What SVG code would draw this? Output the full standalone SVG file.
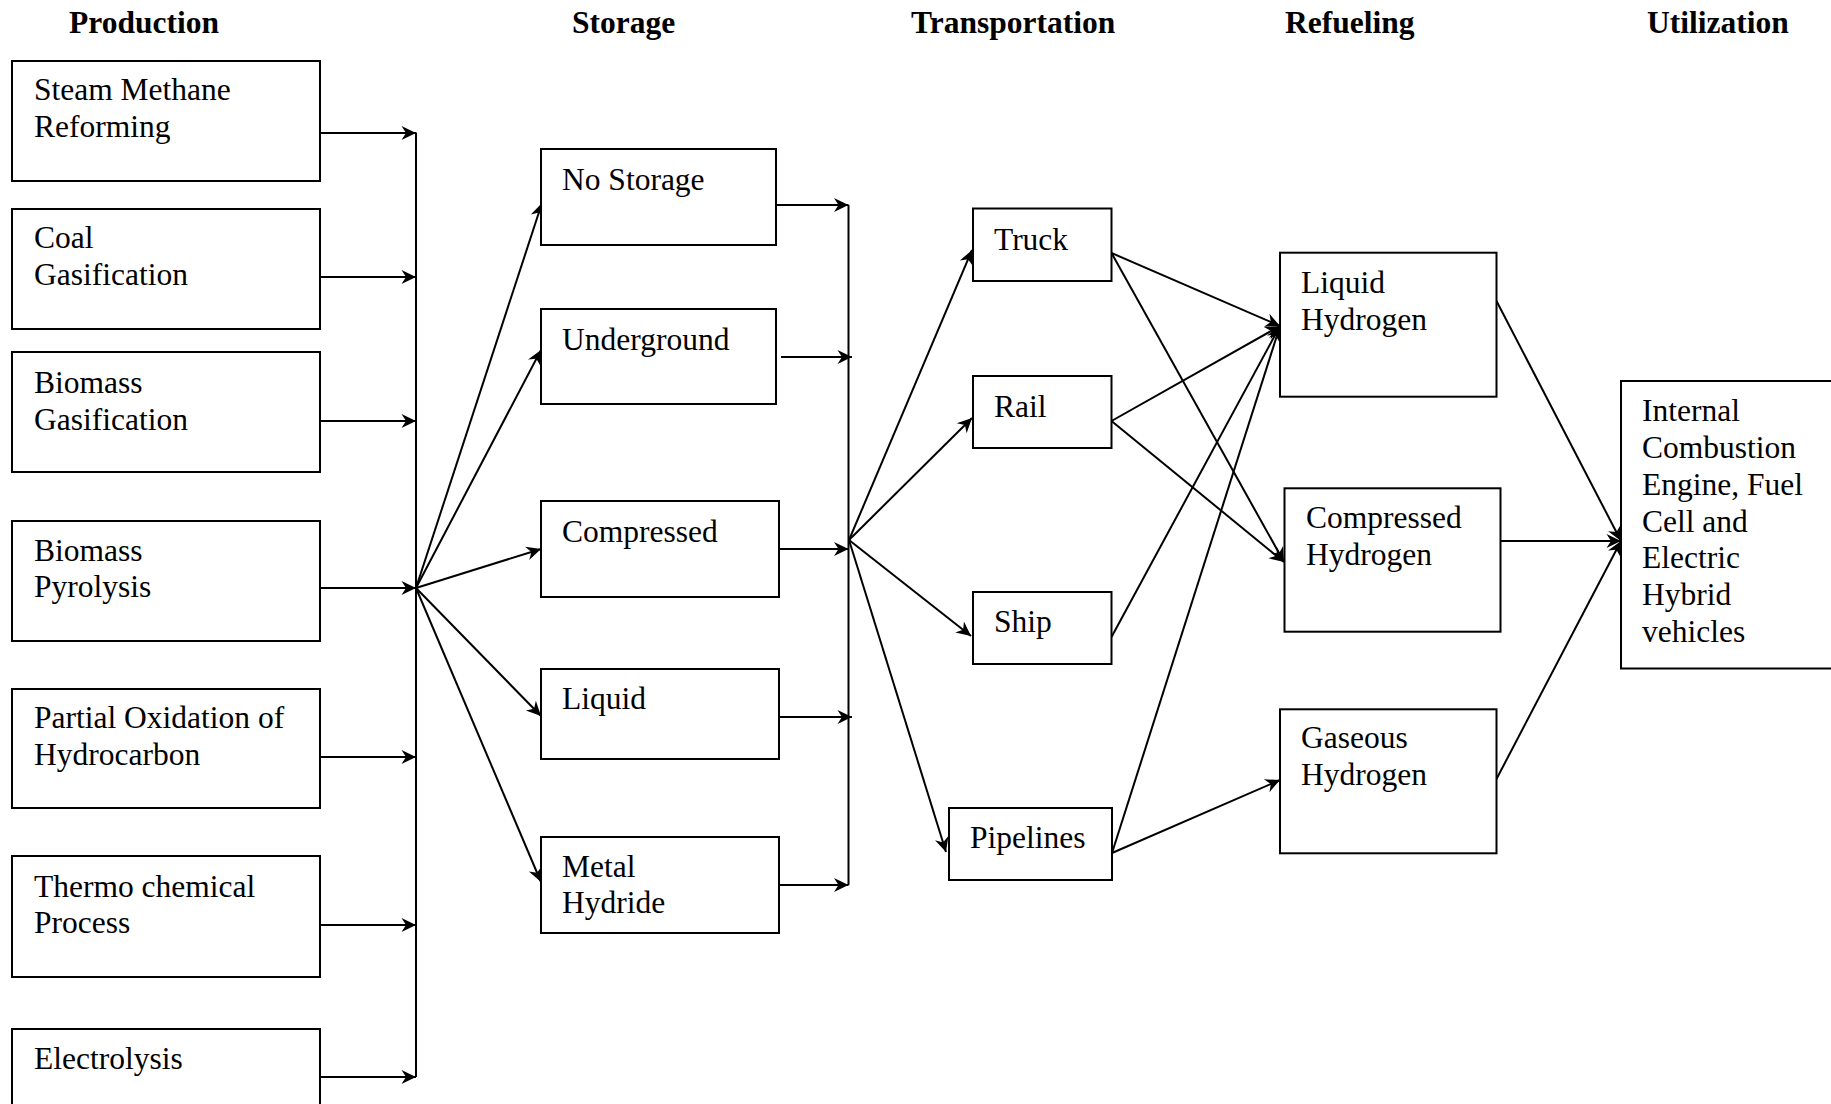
<svg xmlns="http://www.w3.org/2000/svg" width="1831" height="1104" viewBox="0 0 1831 1104">
<style>
.bx{fill:#fff;stroke:#000;stroke-width:2}
.t{font-family:"Liberation Serif","Times New Roman",serif;font-size:31.5px;fill:#000}
.h{font-family:"Liberation Serif","Times New Roman",serif;font-size:31.5px;font-weight:bold;fill:#000}
.c{stroke:#000;stroke-width:2;fill:none;marker-end:url(#a)}
.l{stroke:#000;stroke-width:2;fill:none}
</style>
<defs>
<marker id="a" viewBox="-16 -8 17 16" refX="0" refY="0" markerWidth="17" markerHeight="16" markerUnits="userSpaceOnUse" orient="auto">
<path d="M0,0 L-14.5,-7 L-10,0 L-14.5,7 Z" fill="#000"/>
</marker>
</defs>
<rect width="1831" height="1104" fill="#fff"/>
<g id="titles">
<text class="h" x="69" y="33">Production</text>
<text class="h" x="572" y="33">Storage</text>
<text class="h" x="911" y="33">Transportation</text>
<text class="h" x="1285" y="33">Refueling</text>
<text class="h" x="1647" y="33">Utilization</text>
</g>
<g id="connectors">
<line class="l" x1="416" y1="132.5" x2="416" y2="1077"/>
<line class="c" x1="320" y1="133" x2="416" y2="133"/>
<line class="c" x1="320" y1="277" x2="416" y2="277"/>
<line class="c" x1="320" y1="421" x2="416" y2="421"/>
<line class="c" x1="320" y1="588" x2="416" y2="588"/>
<line class="c" x1="320" y1="757" x2="416" y2="757"/>
<line class="c" x1="320" y1="925" x2="416" y2="925"/>
<line class="c" x1="320" y1="1077" x2="416" y2="1077"/>
<line class="c" x1="416" y1="588" x2="542" y2="203"/>
<line class="c" x1="416" y1="588" x2="541" y2="350"/>
<line class="c" x1="416" y1="588" x2="541" y2="549"/>
<line class="c" x1="416" y1="588" x2="541" y2="716"/>
<line class="c" x1="416" y1="588" x2="541" y2="882"/>
<line class="l" x1="848.5" y1="205" x2="848.5" y2="885"/>
<line class="c" x1="776" y1="205" x2="848.5" y2="205"/>
<line class="c" x1="781" y1="357" x2="852" y2="357"/>
<line class="c" x1="779" y1="549" x2="848.5" y2="549"/>
<line class="c" x1="779" y1="717" x2="852" y2="717"/>
<line class="c" x1="779" y1="885" x2="848.5" y2="885"/>
<line class="c" x1="849" y1="540" x2="972" y2="250"/>
<line class="c" x1="849" y1="540" x2="972" y2="418"/>
<line class="c" x1="849" y1="540" x2="971" y2="636"/>
<line class="c" x1="849" y1="540" x2="946" y2="852"/>
<line class="c" x1="1111.5" y1="253" x2="1280" y2="326"/>
<line class="c" x1="1111.5" y1="253" x2="1284" y2="562"/>
<line class="c" x1="1111.5" y1="421" x2="1280" y2="326"/>
<line class="c" x1="1111.5" y1="421" x2="1284" y2="562"/>
<line class="c" x1="1111.5" y1="637" x2="1280" y2="326"/>
<line class="c" x1="1112" y1="853" x2="1280" y2="326"/>
<line class="c" x1="1112" y1="853" x2="1280" y2="780"/>
<line class="c" x1="1496.5" y1="301" x2="1621" y2="541"/>
<line class="c" x1="1496.5" y1="541" x2="1621" y2="541"/>
<line class="c" x1="1496.5" y1="779" x2="1621" y2="541"/>
</g>
<g id="smr"><rect class="bx" x="12" y="61" width="308" height="120"/><text class="t" x="34" y="100">Steam Methane</text><text class="t" x="34" y="137">Reforming</text></g>
<g id="coal"><rect class="bx" x="12" y="209" width="308" height="120"/><text class="t" x="34" y="248">Coal</text><text class="t" x="34" y="285">Gasification</text></g>
<g id="biogas"><rect class="bx" x="12" y="352" width="308" height="120"/><text class="t" x="34" y="393">Biomass</text><text class="t" x="34" y="430">Gasification</text></g>
<g id="biopyro"><rect class="bx" x="12" y="521" width="308" height="120"/><text class="t" x="34" y="561">Biomass</text><text class="t" x="34" y="597">Pyrolysis</text></g>
<g id="pox"><rect class="bx" x="12" y="689" width="308" height="119"/><text class="t" x="34" y="728">Partial Oxidation of</text><text class="t" x="34" y="765">Hydrocarbon</text></g>
<g id="thermo"><rect class="bx" x="12" y="856" width="308" height="121"/><text class="t" x="34" y="897">Thermo chemical</text><text class="t" x="34" y="933">Process</text></g>
<g id="electro"><rect class="bx" x="12" y="1029" width="308" height="120"/><text class="t" x="34" y="1069">Electrolysis</text></g>
<g id="nostorage"><rect class="bx" x="541" y="149" width="235" height="96"/><text class="t" x="562" y="190">No Storage</text></g>
<g id="underground"><rect class="bx" x="541" y="309" width="235" height="95"/><text class="t" x="562" y="350">Underground</text></g>
<g id="compressed"><rect class="bx" x="541" y="501" width="238" height="96"/><text class="t" x="562" y="542">Compressed</text></g>
<g id="liquid"><rect class="bx" x="541" y="669" width="238" height="90"/><text class="t" x="562" y="709">Liquid</text></g>
<g id="metal"><rect class="bx" x="541" y="837" width="238" height="96"/><text class="t" x="562" y="877">Metal</text><text class="t" x="562" y="913">Hydride</text></g>
<g id="truck"><rect class="bx" x="973" y="208.5" width="138.5" height="72.5"/><text class="t" x="994" y="250">Truck</text></g>
<g id="rail"><rect class="bx" x="973" y="376" width="138.5" height="72"/><text class="t" x="994" y="417">Rail</text></g>
<g id="ship"><rect class="bx" x="973" y="592" width="138.5" height="72"/><text class="t" x="994" y="632">Ship</text></g>
<g id="pipelines"><rect class="bx" x="949" y="808" width="163" height="72"/><text class="t" x="970" y="848">Pipelines</text></g>
<g id="lh"><rect class="bx" x="1280" y="252.7" width="216.5" height="144"/><text class="t" x="1301" y="293">Liquid</text><text class="t" x="1301" y="330">Hydrogen</text></g>
<g id="ch"><rect class="bx" x="1284.5" y="488.3" width="216" height="143.4"/><text class="t" x="1306" y="528">Compressed</text><text class="t" x="1306" y="565">Hydrogen</text></g>
<g id="gh"><rect class="bx" x="1280" y="709.3" width="216.5" height="144"/><text class="t" x="1301" y="748">Gaseous</text><text class="t" x="1301" y="785">Hydrogen</text></g>
<g id="ice"><rect class="bx" x="1621" y="381" width="220" height="287.5"/><text class="t" x="1642" y="421">Internal</text><text class="t" x="1642" y="458">Combustion</text><text class="t" x="1642" y="495">Engine, Fuel</text><text class="t" x="1642" y="532">Cell and</text><text class="t" x="1642" y="568">Electric</text><text class="t" x="1642" y="605">Hybrid</text><text class="t" x="1642" y="642">vehicles</text></g>
</svg>
